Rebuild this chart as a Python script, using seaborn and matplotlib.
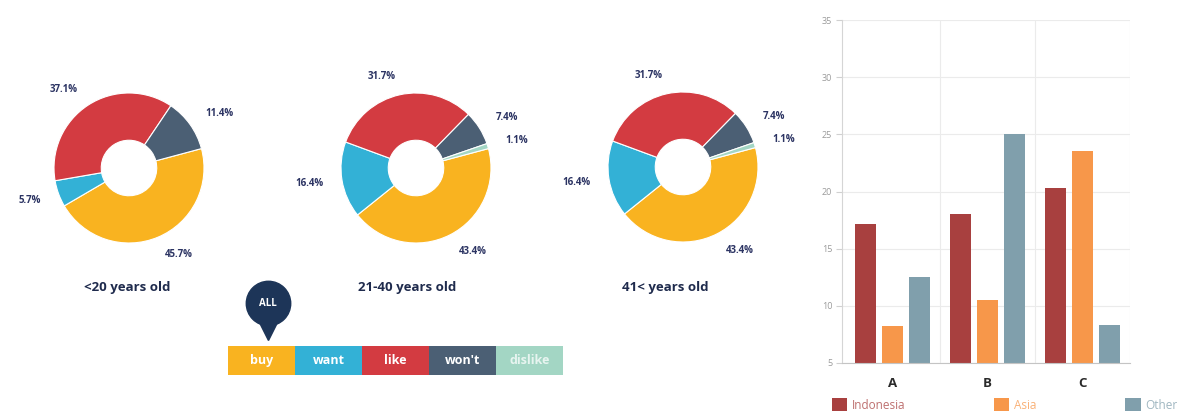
import matplotlib
matplotlib.use("Agg")
import matplotlib.pyplot as plt
import numpy as np
import pandas as pd
import seaborn as sns

# ---------------------------------------------------------------------------
# Data
# ---------------------------------------------------------------------------
RESPONSES = ["buy", "want", "like", "won't", "dislike"]
RESPONSE_COLORS = ["#f9b320", "#33b1d6", "#d33b41", "#4b5f74", "#a3d6c4"]

AGE_GROUPS = ["<20 years old", "21-40 years old", "41< years old"]
SHARE_UNDER_20 = [45.7, 5.7, 37.1, 11.4, 0.0]
SHARE_21_40 = [43.4, 16.4, 31.7, 7.4, 1.1]
SHARE_OVER_41 = [43.4, 16.4, 31.7, 7.4, 1.1]

GROUPS = ["A", "B", "C"]
REGIONS = ["Indonesia", "Asia", "Other"]
REGION_COLORS = ["#a8403f", "#f7974a", "#809fac"]
INDONESIA = [17.2, 18.0, 20.3]
ASIA = [8.2, 10.5, 23.5]
OTHER = [12.5, 25.0, 8.3]
Y_TICKS = [5, 10, 15, 20, 25, 30, 35]

# ---------------------------------------------------------------------------
# Layout (pixels)
# ---------------------------------------------------------------------------
W, H = 1178, 417
DONUT_CENTERS = [(129, 168), (416, 168), (683, 167)]
DONUT_R = 75
TITLE_X = [127, 407, 665]
TITLE_Y = 288
NAVY = "#2c3463"

sns.set_style("white")
plt.rcParams["font.family"] = ["Open Sans", "DejaVu Sans"]

fig = plt.figure(figsize=(W / 100, H / 100), dpi=100)
fig.patch.set_facecolor("white")


def px_axes(left, top, width, height):
    return fig.add_axes([left / W, 1 - (top + height) / H, width / W, height / H])


# ---------------------------------------------------------------------------
# Donuts
# ---------------------------------------------------------------------------
for (cx, cy), tx, title, shares in zip(
    DONUT_CENTERS, TITLE_X, AGE_GROUPS, [SHARE_UNDER_20, SHARE_21_40, SHARE_OVER_41]
):
    ax = px_axes(cx - DONUT_R, cy - DONUT_R, 2 * DONUT_R, 2 * DONUT_R)
    keep = [i for i, v in enumerate(shares) if v > 0]
    ax.pie(
        [shares[i] for i in keep],
        colors=[RESPONSE_COLORS[i] for i in keep],
        labels=[f"{shares[i]:.1f}%" for i in keep],
        labeldistance=1.25,
        startangle=15,
        counterclock=False,
        wedgeprops=dict(width=0.63, edgecolor="white", linewidth=0.8),
        textprops=dict(fontsize=7, fontweight="bold", color=NAVY),
    )
    ax.set_xlim(-1, 1)
    ax.set_ylim(-1, 1)
    fig.text(tx / W, 1 - TITLE_Y / H, title, ha="center", va="center",
             fontsize=9.5, fontweight="bold", color="#1f2b4d")

# ---------------------------------------------------------------------------
# Response legend bar with "ALL" marker
# ---------------------------------------------------------------------------
lg = px_axes(228, 278, 335, 97)
df_leg = pd.DataFrame({"response": RESPONSES, "h": [1] * len(RESPONSES)})
sns.barplot(df_leg, x="response", y="h", hue="response", palette=RESPONSE_COLORS,
            saturation=1, width=1, legend=False, linewidth=0, ax=lg)
lg.set_xlim(-0.5, len(RESPONSES) - 0.5)
lg.set_ylim(0, 97 / 29)
lg.axis("off")
for i, name in enumerate(RESPONSES):
    lg.text(i, 0.5, name, ha="center", va="center", color="white",
            alpha=0.75 if name == "dislike" else 1, fontsize=9, fontweight="bold")
marker_color = "#1d3558"
lg.plot(0.1, (375 - 331) / 29, marker="v", ms=13, color=marker_color, clip_on=False)
lg.plot(0.1, (375 - 303) / 29, marker="o", ms=32, color=marker_color, clip_on=False)
lg.text(0.1, (375 - 303) / 29, "ALL", ha="center", va="center", color="white",
        fontsize=7, fontweight="bold")

# ---------------------------------------------------------------------------
# Grouped bar chart
# ---------------------------------------------------------------------------
df_bars = pd.DataFrame({
    "group": GROUPS * len(REGIONS),
    "region": np.repeat(REGIONS, len(GROUPS)),
    "value": INDONESIA + ASIA + OTHER,
})
bx = px_axes(842, 20, 288, 343)
sns.barplot(df_bars, x="group", y="value", hue="region", hue_order=REGIONS,
            palette=REGION_COLORS, saturation=1, width=0.85, gap=0.2,
            linewidth=0, ax=bx)
bx.set_ylim(Y_TICKS[0], Y_TICKS[-1])
bx.set_yticks(Y_TICKS)
bx.set_xlim(-0.53, len(GROUPS) - 0.5)
bx.set_axisbelow(True)
bx.yaxis.grid(True, color="#ebebeb", linewidth=0.8)
for i in range(len(GROUPS)):
    bx.axvline(i + 0.5, color="#ebebeb", linewidth=0.8, zorder=0)
for side in ["top", "right"]:
    bx.spines[side].set_visible(False)
bx.spines["left"].set_color("#d5d5d5")
bx.spines["bottom"].set_color("#c4c4c4")
bx.tick_params(axis="y", labelsize=6.5, labelcolor="#9a9a9a", length=4,
               color="#d0d0d0", pad=3, left=True)
bx.tick_params(axis="x", labelsize=9.5, labelcolor="#2a2a2a", length=0, pad=10)
for t in bx.get_xticklabels():
    t.set_fontweight("bold")
bx.set_xlabel("")
bx.set_ylabel("")

handles, labels = bx.get_legend_handles_labels()
leg = bx.legend(handles, labels, loc="center", bbox_to_anchor=(-0.035, -0.122, 1.2, 0),
                mode="expand", ncol=3, frameon=False, fontsize=8.5,
                handlelength=1.3, handleheight=1.3, handletextpad=0.4,
                borderaxespad=0, borderpad=0)
for text, c in zip(leg.get_texts(), REGION_COLORS):
    text.set_color(c)
    text.set_alpha(0.75)

fig.savefig("out.png", dpi=100)
